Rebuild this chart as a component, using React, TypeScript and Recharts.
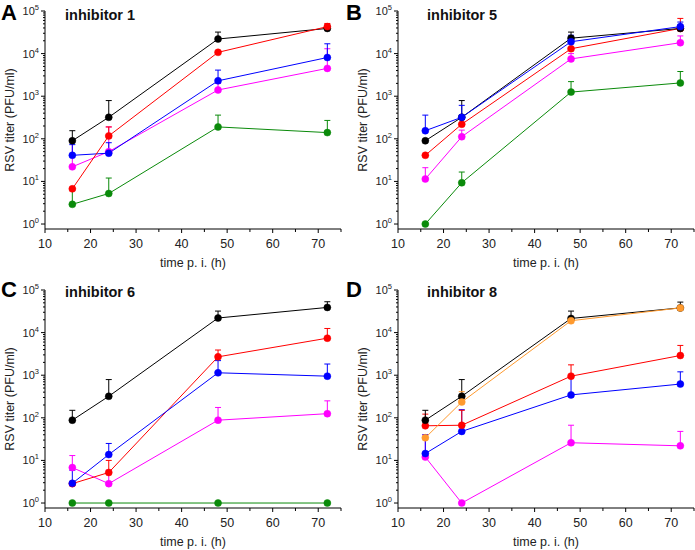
import React from 'react'
import { LineChart, Line, XAxis, YAxis, ErrorBar } from 'recharts'

const times = [16, 24, 48, 72]

// panel A — inhibitor 1 (means and upper error-bar ends)
const aBlack = [90, 320, 22000, 39000]
const aBlackTop = [155, 790, 32000, 46000]
const aRed = [6.7, 117, 10700, 43000]
const aRedTop = [6.7, 190, 10700, 51000]
const aBlue = [41, 46, 2300, 8100]
const aBlueTop = [73, 81, 4100, 17000]
const aMagenta = [22, 50, 1400, 4500]
const aMagentaTop = [97, 190, 2000, 13000]
const aGreen = [2.9, 5.2, 190, 140]
const aGreenTop = [6.3, 12, 360, 270]

// panel B — inhibitor 5
const bBlack = [90, 320, 23000, 39000]
const bBlackTop = [90, 790, 32000, 45000]
const bBlue = [155, 320, 19000, 43000]
const bBlueTop = [360, 610, 27000, 55000]
const bRed = [41, 220, 13000, 39000]
const bRedTop = [41, 220, 13000, 67000]
const bMagenta = [11.4, 112, 7500, 18000]
const bMagentaTop = [21, 160, 10000, 26000]
const bGreen = [1, 9.3, 1250, 2050]
const bGreenTop = [1, 16.6, 2200, 3800]

// panel C — inhibitor 6
const cBlack = [88, 320, 22000, 39000]
const cBlackTop = [150, 790, 32000, 53000]
const cRed = [2.85, 5.2, 2700, 7400]
const cRedTop = [2.85, 10, 3900, 12500]
const cBlue = [2.9, 13.7, 1140, 950]
const cBlueTop = [5.9, 25, 2200, 1830]
const cMagenta = [6.8, 2.85, 88, 125]
const cMagentaTop = [13, 5.9, 175, 250]
const cGreen = [1, 1, 1, 1]
const cGreenTop = [1, 1, 1, 1]

// panel D — inhibitor 8
const dBlack = [88, 320, 21500, 38000]
const dBlackTop = [150, 790, 32000, 52000]
const dOrange = [34, 235, 19000, 38000]
const dOrangeTop = [34, 410, 19000, 38000]
const dRed = [65, 67, 950, 2900]
const dRedTop = [122, 150, 1750, 5000]
const dBlue = [14.5, 48, 345, 620]
const dBlueTop = [40, 155, 920, 1200]
const dMagenta = [12, 1, 26, 22]
const dMagentaTop = [40, 1, 67, 48]

const xTicks = [10, 15, 20, 25, 30, 35, 40, 45, 50, 55, 60, 65, 70, 75]
const yMajorTicks = [1, 10, 100, 1000, 10000, 100000]

const BLACK = '#000000'
const RED = '#ff0000'
const BLUE = '#0000ff'
const MAGENTA = '#ff00ff'
const GREEN = '#0a8a0a'
const ORANGE = '#ff9a2e'

const FONT = '"Liberation Sans", Arial, sans-serif'

type Series = { key: string; color: string; values: number[]; tops: number[] }

const yTicks: number[] = []
yMajorTicks.forEach((m) => {
  yTicks.push(m)
  if (m < 100000) for (let k = 2; k <= 9; k++) yTicks.push(m * k)
})

function buildRows(series: Series[]) {
  return times.map((t, i) => {
    const row: any = { t }
    series.forEach((s) => {
      row[s.key] = s.values[i]
      row[s.key + 'Err'] = [0, Math.max(0, s.tops[i] - s.values[i])]
    })
    return row
  })
}

const XTick = (props: any) => {
  const { x, y, payload } = props
  const v = payload.value
  const major = v % 10 === 0
  return (
    <g>
      <line x1={x} x2={x} y1={y} y2={y + (major ? 4 : 3)} stroke="#000" strokeWidth={1} />
      {major && v <= 70 && (
        <text x={x} y={y + 19} textAnchor="middle" fontSize={12.5} fill="#222" fontFamily={FONT}>
          {v}
        </text>
      )}
    </g>
  )
}

const YTick = (props: any) => {
  const { x, y, payload } = props
  const v = payload.value
  const exp = Math.log10(v)
  const major = Math.abs(exp - Math.round(exp)) < 1e-6
  return (
    <g>
      <line x1={x} x2={x - (major ? 4 : 2)} y1={y} y2={y} stroke="#000" strokeWidth={1} />
      {major && (
        <text x={x - 6} y={y + 4} textAnchor="end" fontSize={11} fill="#222" fontFamily={FONT}>
          10
          <tspan fontSize={7.5} dy={-5}>
            {Math.round(exp)}
          </tspan>
        </text>
      )}
    </g>
  )
}

function Panel({ left, top, series }: { left: number; top: number; series: Series[] }) {
  const rows = buildRows(series)
  return (
    <div style={{ position: 'absolute', left, top }}>
      <LineChart width={350} height={275} data={rows} margin={{ top: 11, right: 9, left: 0, bottom: 0 }}>
        <XAxis
          dataKey="t"
          type="number"
          domain={[10, 75]}
          ticks={xTicks}
          interval={0}
          allowDataOverflow
          tickSize={0}
          tickMargin={0}
          tick={<XTick />}
          height={46}
          axisLine={{ stroke: '#000', strokeWidth: 1 }}
          label={{ value: 'time p. i. (h)', position: 'insideBottom', offset: 8, fontSize: 12.5, fill: '#222', fontFamily: FONT }}
        />
        <YAxis
          scale="log"
          type="number"
          domain={[0.764, 100000]}
          ticks={yTicks}
          interval={0}
          allowDataOverflow
          tickSize={0}
          tickMargin={0}
          tick={<YTick />}
          width={45}
          axisLine={{ stroke: '#000', strokeWidth: 1 }}
          label={{
            value: 'RSV titer (PFU/ml)',
            angle: -90,
            position: 'insideLeft',
            offset: 10,
            fontSize: 12.5,
            fill: '#222',
            fontFamily: FONT,
            style: { textAnchor: 'middle' },
          }}
        />
        {series.map((s) => (
          <Line
            key={s.key}
            dataKey={s.key}
            stroke={s.color}
            strokeWidth={1}
            dot={{ r: 3.5, fill: s.color, stroke: s.color, strokeWidth: 0.5 }}
            activeDot={false}
            isAnimationActive={false}
          >
            <ErrorBar dataKey={s.key + 'Err'} direction="y" width={3} stroke={s.color} strokeWidth={1} />
          </Line>
        ))}
      </LineChart>
    </div>
  )
}

const panelA: Series[] = [
  { key: 'green', color: GREEN, values: aGreen, tops: aGreenTop },
  { key: 'magenta', color: MAGENTA, values: aMagenta, tops: aMagentaTop },
  { key: 'blue', color: BLUE, values: aBlue, tops: aBlueTop },
  { key: 'black', color: BLACK, values: aBlack, tops: aBlackTop },
  { key: 'red', color: RED, values: aRed, tops: aRedTop },
]

const panelB: Series[] = [
  { key: 'green', color: GREEN, values: bGreen, tops: bGreenTop },
  { key: 'magenta', color: MAGENTA, values: bMagenta, tops: bMagentaTop },
  { key: 'red', color: RED, values: bRed, tops: bRedTop },
  { key: 'black', color: BLACK, values: bBlack, tops: bBlackTop },
  { key: 'blue', color: BLUE, values: bBlue, tops: bBlueTop },
]

const panelC: Series[] = [
  { key: 'green', color: GREEN, values: cGreen, tops: cGreenTop },
  { key: 'magenta', color: MAGENTA, values: cMagenta, tops: cMagentaTop },
  { key: 'red', color: RED, values: cRed, tops: cRedTop },
  { key: 'blue', color: BLUE, values: cBlue, tops: cBlueTop },
  { key: 'black', color: BLACK, values: cBlack, tops: cBlackTop },
]

const panelD: Series[] = [
  { key: 'magenta', color: MAGENTA, values: dMagenta, tops: dMagentaTop },
  { key: 'blue', color: BLUE, values: dBlue, tops: dBlueTop },
  { key: 'red', color: RED, values: dRed, tops: dRedTop },
  { key: 'black', color: BLACK, values: dBlack, tops: dBlackTop },
  { key: 'orange', color: ORANGE, values: dOrange, tops: dOrangeTop },
]

const headings = [
  { letter: 'A', title: 'inhibitor 1', x: 1, tx: 65, y: 20 },
  { letter: 'B', title: 'inhibitor 5', x: 346, tx: 427, y: 20 },
  { letter: 'C', title: 'inhibitor 6', x: 1, tx: 65, y: 297 },
  { letter: 'D', title: 'inhibitor 8', x: 346, tx: 427, y: 297 },
]

export default function App() {
  return (
    <div style={{ position: 'absolute', left: 0, top: 0, width: 695, height: 550, background: '#fff', fontFamily: FONT }}>
      <Panel left={0} top={0} series={panelA} />
      <Panel left={352.5} top={0} series={panelB} />
      <Panel left={0} top={279} series={panelC} />
      <Panel left={352.5} top={279} series={panelD} />
      <svg width={695} height={550} style={{ position: 'absolute', left: 0, top: 0, pointerEvents: 'none' }}>
        {headings.map((h) => (
          <g key={h.letter}>
            <text x={h.x} y={h.y} fontSize={22} fontWeight="bold" fill="#000" fontFamily={FONT}>
              {h.letter}
            </text>
            <text x={h.tx} y={h.y} fontSize={14.5} fontWeight="bold" fill="#111" fontFamily={FONT}>
              {h.title}
            </text>
          </g>
        ))}
      </svg>
    </div>
  )
}
